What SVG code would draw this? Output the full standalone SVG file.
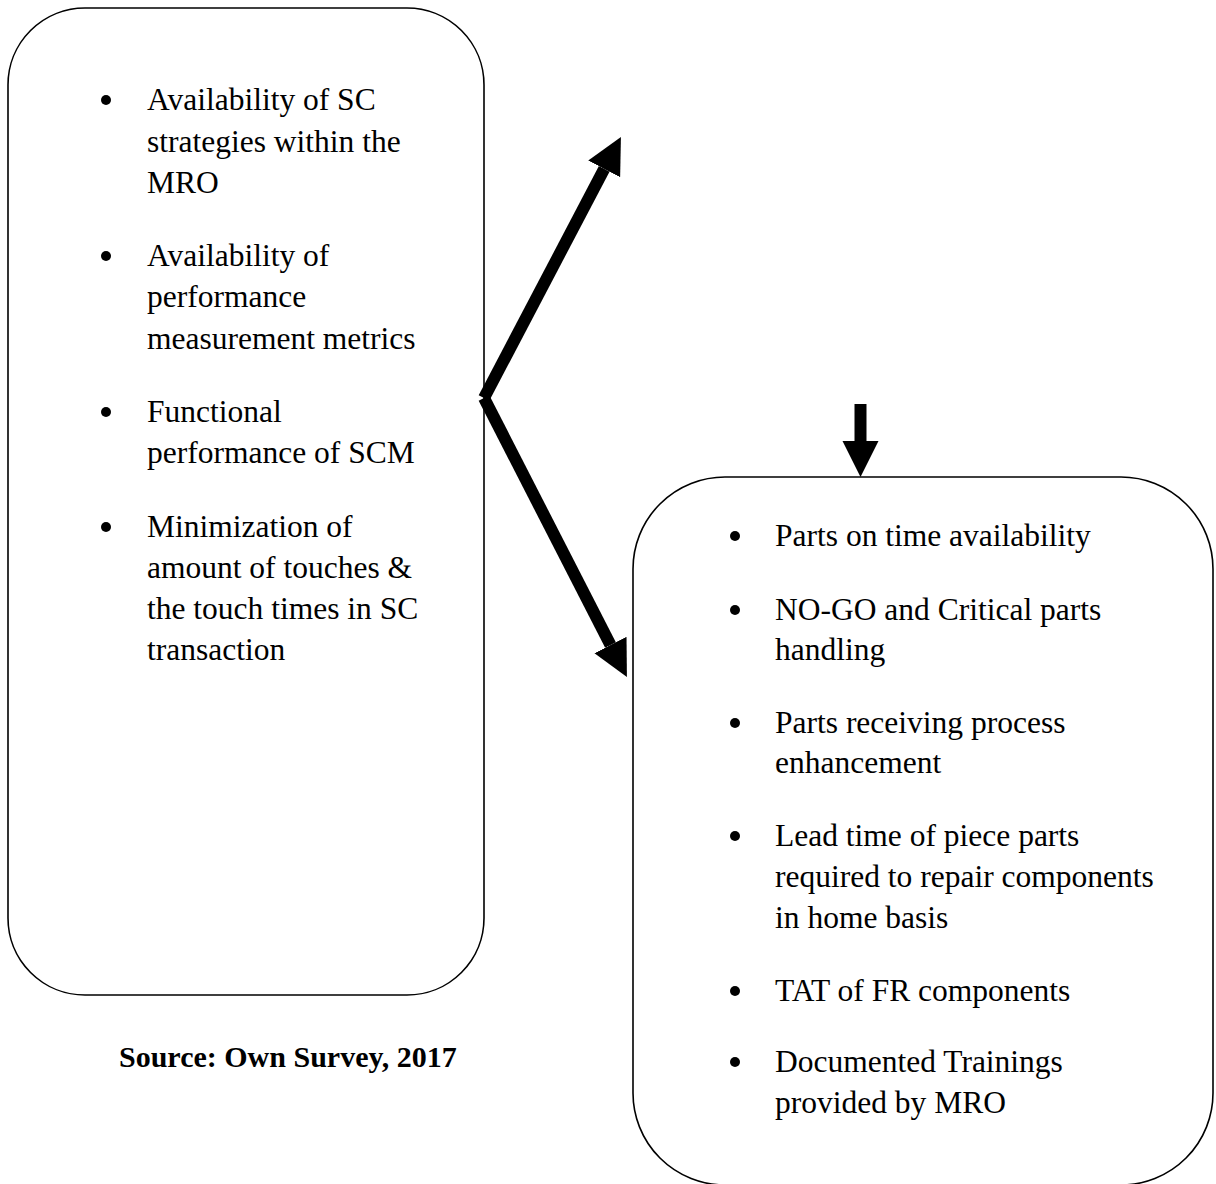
<svg xmlns="http://www.w3.org/2000/svg" width="1216" height="1184" viewBox="0 0 1216 1184">
  <style>
    .box { fill: #ffffff; stroke: #000000; stroke-width: 1.6; }
    .t { font-family: "Liberation Serif", "Times New Roman", serif; font-size: 31.5px; fill: #000000; }
    .src { font-family: "Liberation Serif", "Times New Roman", serif; font-size: 30px; font-weight: bold; fill: #000000; }
    .conn { stroke: #000000; stroke-width: 12; fill: none; stroke-linecap: butt; }
    .dot { fill: #000000; }
  </style>
  <defs>
    <marker id="head" markerUnits="userSpaceOnUse" markerWidth="38" markerHeight="38" refX="0" refY="18" orient="auto" viewBox="0 0 38 38">
      <path d="M0,0 L36,18 L0,36 Z" fill="#000000"/>
    </marker>
  </defs>
  <rect width="1216" height="1184" fill="#ffffff"/>

  <g id="node-left">
    <rect class="box" x="8" y="8" width="476" height="987" rx="77" ry="77"/>
    <circle class="dot" cx="106" cy="100" r="5"/>
    <text class="t" x="147" y="110">Availability of SC</text>
    <text class="t" x="147" y="152">strategies within the</text>
    <text class="t" x="147" y="193">MRO</text>
    <circle class="dot" cx="106" cy="256" r="5"/>
    <text class="t" x="147" y="266">Availability of</text>
    <text class="t" x="147" y="307">performance</text>
    <text class="t" x="147" y="349">measurement metrics</text>
    <circle class="dot" cx="106" cy="412" r="5"/>
    <text class="t" x="147" y="422">Functional</text>
    <text class="t" x="147" y="463">performance of SCM</text>
    <circle class="dot" cx="106" cy="527" r="5"/>
    <text class="t" x="147" y="537">Minimization of</text>
    <text class="t" x="147" y="578">amount of touches &amp;</text>
    <text class="t" x="147" y="619">the touch times in SC</text>
    <text class="t" x="147" y="660">transaction</text>
  </g>

  <g id="node-right">
    <rect class="box" x="633" y="477" width="580" height="708" rx="92" ry="92"/>
    <circle class="dot" cx="735" cy="536" r="5"/>
    <text class="t" x="775" y="546">Parts on time availability</text>
    <circle class="dot" cx="735" cy="610" r="5"/>
    <text class="t" x="775" y="620">NO-GO and Critical parts</text>
    <text class="t" x="775" y="660">handling</text>
    <circle class="dot" cx="735" cy="723" r="5"/>
    <text class="t" x="775" y="733">Parts receiving process</text>
    <text class="t" x="775" y="773">enhancement</text>
    <circle class="dot" cx="735" cy="836" r="5"/>
    <text class="t" x="775" y="846">Lead time of piece parts</text>
    <text class="t" x="775" y="887">required to repair components</text>
    <text class="t" x="775" y="928">in home basis</text>
    <circle class="dot" cx="735" cy="991" r="5"/>
    <text class="t" x="775" y="1001">TAT of FR components</text>
    <circle class="dot" cx="735" cy="1062" r="5"/>
    <text class="t" x="775" y="1072">Documented Trainings</text>
    <text class="t" x="775" y="1113">provided by MRO</text>
  </g>

  <g id="source">
    <text class="src" x="119" y="1067">Source: Own Survey, 2017</text>
  </g>

  <g id="connectors">
    <line class="conn" x1="484" y1="398" x2="604.2" y2="168.9" marker-end="url(#head)"/>
    <line class="conn" x1="484" y1="398" x2="610.5" y2="645" marker-end="url(#head)"/>
    <line class="conn" x1="860.5" y1="404" x2="860.5" y2="441" stroke-width="11" marker-end="url(#head)"/>
  </g>
</svg>
